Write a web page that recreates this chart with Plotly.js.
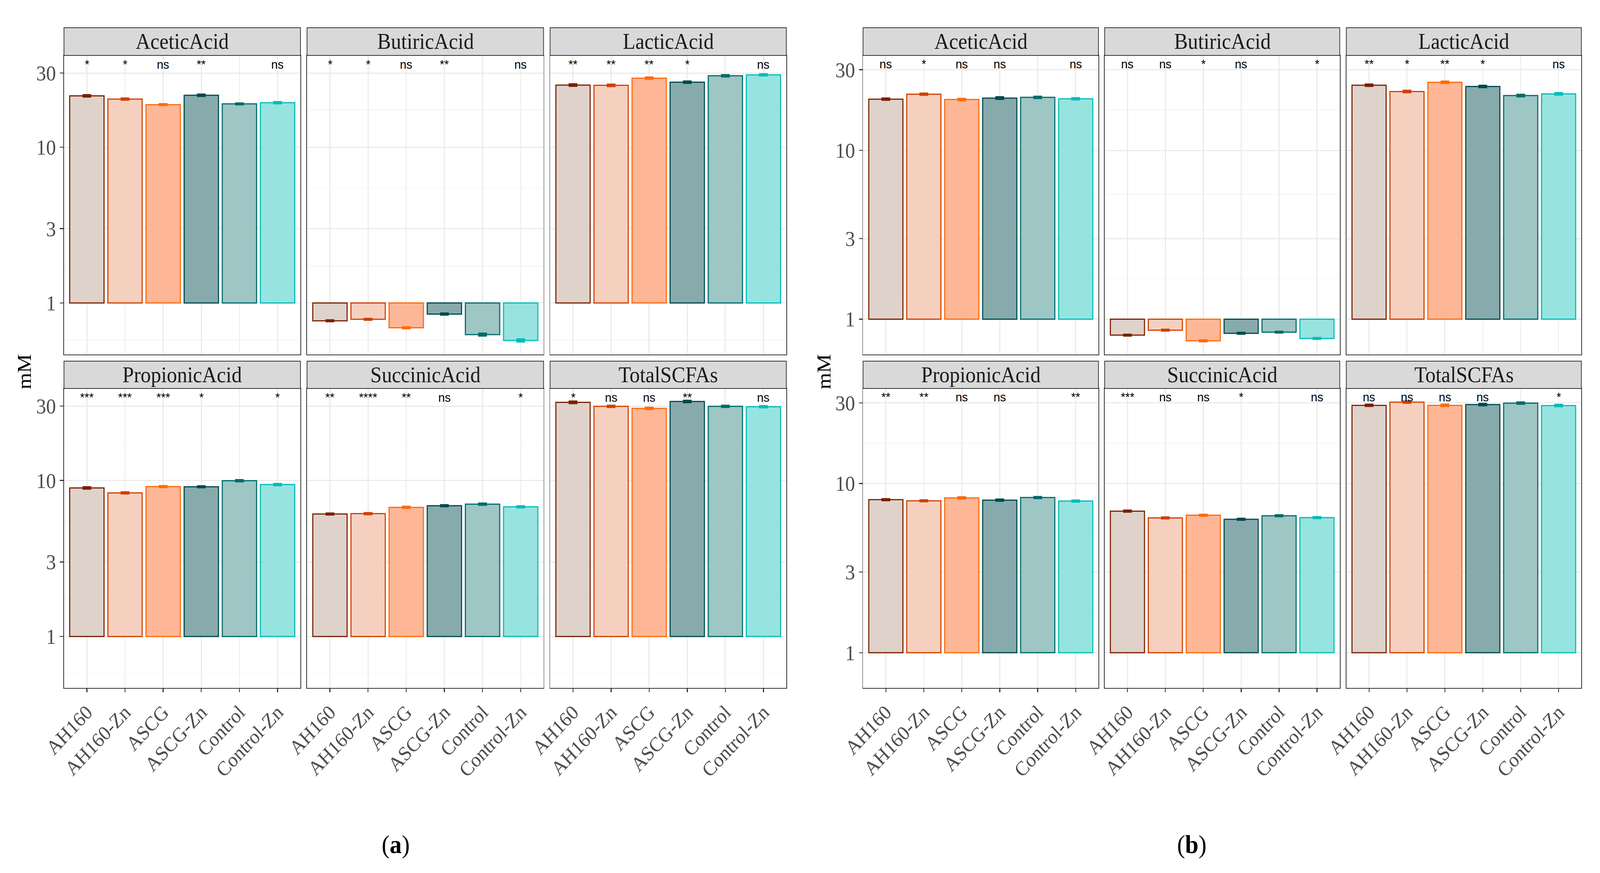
<!DOCTYPE html>
<html><head><meta charset="utf-8">
<script src="https://cdn.plot.ly/plotly-3.0.1.min.js"></script>
<style>html,body{margin:0;padding:0;background:#fff;overflow:hidden}#chart{width:4377px;height:2236px;transform-origin:0 0}</style>
</head><body><div id="chart"></div>
<script>
// ---------- data ----------
const groups = ['AH160', 'AH160-Zn', 'ASCG', 'ASCG-Zn', 'Control', 'Control-Zn'];
const panelTitles = ['AceticAcid', 'ButiricAcid', 'LacticAcid', 'PropionicAcid', 'SuccinicAcid', 'TotalSCFAs'];
const yTickVals = [1, 3, 10, 30];
const yTickText = ['1', '3', '10', '30'];
const yMinorVals = [0.577, 1.732, 5.477, 17.32];

// figure (a)
const aceticA     = [21.4, 20.4, 18.8, 21.6, 19.0, 19.35];
const butiricA    = [0.768, 0.785, 0.693, 0.848, 0.626, 0.574];
const lacticA     = [25.1, 25.0, 27.8, 26.2, 28.8, 29.2];
const propionicA  = [8.96, 8.33, 9.14, 9.12, 9.97, 9.42];
const succinicA   = [6.10, 6.13, 6.73, 6.89, 7.05, 6.78];
const totalA      = [31.7, 29.9, 29.0, 32.1, 29.9, 29.7];
const aceticAse    = [0.25, 0.2, 0.15, 0.25, 0.15, 0.2];
const butiricAse   = [0.006, 0.006, 0.006, 0.008, 0.01, 0.01];
const lacticAse    = [0.3, 0.3, 0.3, 0.3, 0.3, 0.3];
const propionicAse = [0.1, 0.08, 0.08, 0.08, 0.1, 0.1];
const succinicAse  = [0.05, 0.06, 0.06, 0.06, 0.07, 0.06];
const totalAse     = [0.4, 0.3, 0.3, 0.4, 0.3, 0.3];
const sigA = [
  ['*', '*', 'ns', '**', '', 'ns'],
  ['*', '*', 'ns', '**', '', 'ns'],
  ['**', '**', '**', '*', '', 'ns'],
  ['***', '***', '***', '*', '', '*'],
  ['**', '****', '**', 'ns', '', '*'],
  ['*', 'ns', 'ns', '**', '', 'ns']
];

// figure (b)
const aceticB     = [20.1, 21.5, 20.0, 20.4, 20.6, 20.2];
const butiricB    = [0.805, 0.861, 0.744, 0.825, 0.838, 0.769];
const lacticB     = [24.3, 22.3, 25.3, 23.9, 21.1, 21.6];
const propionicB  = [8.03, 7.91, 8.23, 7.98, 8.27, 7.88];
const succinicB   = [6.87, 6.27, 6.50, 6.15, 6.45, 6.29];
const totalB      = [29.0, 30.3, 29.0, 29.3, 29.9, 28.9];
const aceticBse    = [0.2, 0.2, 0.2, 0.25, 0.2, 0.2];
const butiricBse   = [0.006, 0.006, 0.006, 0.006, 0.006, 0.006];
const lacticBse    = [0.25, 0.25, 0.25, 0.25, 0.25, 0.25];
const propionicBse = [0.07, 0.06, 0.07, 0.07, 0.07, 0.07];
const succinicBse  = [0.06, 0.05, 0.05, 0.05, 0.05, 0.05];
const totalBse     = [0.3, 0.3, 0.3, 0.3, 0.3, 0.3];
const sigB = [
  ['ns', '*', 'ns', 'ns', '', 'ns'],
  ['ns', 'ns', '*', 'ns', '', '*'],
  ['**', '*', '**', '*', '', 'ns'],
  ['**', '**', 'ns', 'ns', '', '**'],
  ['***', 'ns', 'ns', '*', '', 'ns'],
  ['ns', 'ns', 'ns', 'ns', '', '*']
];

// ---------- styles ----------
const fillColors = ['#DFD2CB', '#F6D0BF', '#FDB797', '#87ABAC', '#9DC6C5', '#97E3E0'];
const lineColors = ['#7A2000', '#D04000', '#FF6A0A', '#00494F', '#006B6B', '#00BDBA'];

const W = 4377, H = 2236;
const SERIF = 'Liberation Serif, Times New Roman, serif';
const SANS = 'Liberation Sans, Arial, sans-serif';

// fit the 4377x2236 drawing into whatever viewport the page gets
(function () {
  const el = document.getElementById('chart');
  const sx = (window.innerWidth || W) / W;
  const sy = (window.innerHeight || H) / H;
  el.style.transform = 'scale(' + sx + ',' + sy + ')';
})();

const figs = [
  { vals: [aceticA, butiricA, lacticA, propionicA, succinicA, totalA],
    se: [aceticAse, butiricAse, lacticAse, propionicAse, succinicAse, totalAse],
    sig: sigA,
    cols: [[175, 822], [840, 1487], [1505, 2151]],
    yrange: [-0.33, 1.59], sigY: 1.497, titleX: 66, label: '(<b>a</b>)', labelX: 1082 },
  { vals: [aceticB, butiricB, lacticB, propionicB, succinicB, totalB],
    se: [aceticBse, butiricBse, lacticBse, propionicBse, succinicBse, totalBse],
    sig: sigB,
    cols: [[2361, 3005], [3022, 3665], [3683, 4326]],
    yrange: [-0.208, 1.562], sigY: 1.478, titleX: 2254, label: '(<b>b</b>)', labelX: 3260 }
];
const rows = [[142, 907.5], [995, 1762]];
const strips = [[71, 142], [925, 995]];

const traces = [];
const layout = {
  width: W, height: H,
  margin: { l: 0, r: 0, t: 0, b: 0 },
  paper_bgcolor: '#ffffff', plot_bgcolor: '#ffffff',
  showlegend: false, bargap: 0.1,
  shapes: [], annotations: []
};

let k = 0;
figs.forEach(function (fig) {
  for (let r = 0; r < 2; r++) {
    for (let c = 0; c < 3; c++) {
      k++;
      const p = r * 3 + c;
      const vals = fig.vals[p];
      const se = fig.se[p];
      const xa = 'x' + k, ya = 'y' + k;
      const xkey = 'xaxis' + k, ykey = 'yaxis' + k;
      const x0 = fig.cols[c][0], x1 = fig.cols[c][1];
      const yt = rows[r][0], yb = rows[r][1];

      layout[xkey] = {
        domain: [x0 / W, x1 / W], anchor: ya,
        type: 'category', categoryorder: 'array', categoryarray: groups,
        range: [-0.6, 5.6], fixedrange: true,
        showline: true, mirror: true, linecolor: '#333333', linewidth: 2,
        showgrid: true, gridcolor: '#EBEBEB', gridwidth: 3, zeroline: false,
        ticks: r === 1 ? 'outside' : '', ticklen: 9, tickwidth: 2.5, tickcolor: '#333333',
        showticklabels: r === 1, tickangle: -45,
        tickfont: { family: SERIF, size: 52, color: '#4D4D4D' }
      };
      layout[ykey] = {
        domain: [1 - yb / H, 1 - yt / H], anchor: xa,
        type: 'log', range: fig.yrange, fixedrange: true,
        tickmode: 'array', tickvals: yTickVals, ticktext: yTickText,
        showline: true, mirror: true, linecolor: '#333333', linewidth: 2,
        showgrid: true, gridcolor: '#EBEBEB', gridwidth: 3, zeroline: false,
        ticks: c === 0 ? 'outside' : '', ticklen: 9, tickwidth: 2.5, tickcolor: '#333333',
        showticklabels: c === 0,
        tickfont: { family: SERIF, size: 54, color: '#4D4D4D' },
        minor: { tickmode: 'array', tickvals: yMinorVals, showgrid: true,
                 gridcolor: '#F4F4F4', gridwidth: 1.5, ticks: '' }
      };

      // bars drawn from y = 1 (log-scale origin) to the value
      traces.push({
        type: 'bar', xaxis: xa, yaxis: ya,
        x: groups, y: vals.map(function (v) { return v - 1; }), base: 1,
        width: 0.9,
        marker: { color: fillColors, line: { color: lineColors, width: 3 } },
        hoverinfo: 'skip', showlegend: false
      });
      // error bars
      groups.forEach(function (g, i) {
        traces.push({
          type: 'scatter', mode: 'markers', xaxis: xa, yaxis: ya,
          x: [g], y: [vals[i]],
          marker: { size: 1, color: 'rgba(0,0,0,0)' },
          error_y: { type: 'data', array: [se[i]], visible: true,
                     color: lineColors[i], thickness: 5, width: 12 },
          hoverinfo: 'skip', showlegend: false
        });
      });

      // strip
      layout.shapes.push({
        type: 'rect', xref: 'paper', yref: 'paper',
        x0: x0 / W, x1: x1 / W, y0: 1 - strips[r][1] / H, y1: 1 - strips[r][0] / H,
        fillcolor: '#D9D9D9', line: { color: '#333333', width: 2 }, layer: 'above'
      });
      layout.annotations.push({
        xref: 'paper', yref: 'paper',
        x: (x0 + x1) / 2 / W, y: 1 - (strips[r][0] + strips[r][1]) / 2 / H,
        xanchor: 'center', yanchor: 'middle', showarrow: false,
        text: panelTitles[p], font: { family: SERIF, size: 56, color: '#1A1A1A' }
      });

      // significance labels
      groups.forEach(function (g, i) {
        const t = fig.sig[p][i];
        if (!t) return;
        layout.annotations.push({
          xref: xa, yref: ya, x: g, y: fig.sigY,
          xanchor: 'center', yanchor: 'bottom', yshift: -6, showarrow: false,
          text: t, font: { family: SANS, size: 32, color: '#000000' }
        });
      });
    }
  }
  // y-axis title
  layout.annotations.push({
    xref: 'paper', yref: 'paper', x: fig.titleX / W, y: 1 - 952 / H,
    xanchor: 'center', yanchor: 'middle', showarrow: false, textangle: -90,
    text: 'mM', font: { family: SERIF, size: 54, color: '#000000' }
  });
  // figure label
  layout.annotations.push({
    xref: 'paper', yref: 'paper', x: fig.labelX / W, y: 1 - 2163 / H,
    xanchor: 'center', yanchor: 'middle', showarrow: false,
    text: fig.label, font: { family: SERIF, size: 66, color: '#000000' }
  });
});

Plotly.newPlot('chart', traces, layout, { staticPlot: true, displayModeBar: false });
</script>
</body></html>
